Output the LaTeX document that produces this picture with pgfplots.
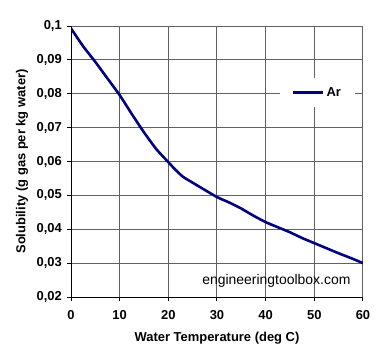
\documentclass[border=0pt]{standalone}
\usepackage{pgfplots}
\pgfplotsset{compat=1.18}
\usepackage{fontspec}
\setmainfont{Liberation Sans}
\definecolor{navy}{rgb}{0,0,0.5}
\definecolor{gridgray}{rgb}{0.38,0.38,0.38}
\begin{document}
\begin{tikzpicture}
\path[use as bounding box] (-71bp,-66bp) rectangle (317bp,297bp);
\begin{axis}[
  at={(0,0)}, anchor=south west,
  scale only axis, width=292bp, height=271bp,
  xmin=0, xmax=60, ymin=0.02, ymax=0.1,
  xtick={0,10,20,30,40,50,60},
  ytick={0.02,0.03,0.04,0.05,0.06,0.07,0.08,0.09,0.1},
  grid=major,
  major grid style={gridgray, line width=1bp},
  axis line style={gridgray, line width=1bp},
  tick align=outside, major tick length=4bp,
  tick style={black, line width=1bp},
  xtick pos=bottom, ytick pos=left,
  /pgf/number format/.cd, use comma, fixed, precision=2, assume math mode=true,
  /pgfplots/.cd,
  ticklabel style={font=\bfseries\fontsize{13}{13}\selectfont},
  yticklabel style={anchor=east, inner sep=0pt, xshift=-5bp},
  xticklabel style={anchor=north, inner sep=0pt, yshift=-9bp},
  xlabel={Water Temperature (deg C)},
  ylabel={Solubility (g gas per kg water)},
  label style={font=\bfseries\fontsize{13}{13}\selectfont},
  xlabel style={at={(axis description cs:0.5,-0.151)}, anchor=center},
  ylabel style={at={(axis description cs:-0.168,0.5)}, anchor=center},
  legend style={at={(0.973,0.808)}, anchor=north east, draw=none, fill=white,
    inner xsep=12bp, inner ysep=7bp, font=\bfseries\fontsize{13}{13}\selectfont},
  legend image code/.code={\draw[#1] (0bp,0bp) -- (30bp,0bp);},
]
\addplot[navy, line width=2.6pt, smooth, tension=0.3] coordinates {
(0,0.0993) (2.5,0.0940) (5,0.0894) (7.5,0.0845) (10,0.0796) (12.5,0.0740) (15,0.0686)
(17.5,0.0637) (20,0.0598) (21.5,0.0575) (23,0.0555) (24.7,0.0540) (27.5,0.0516) (30,0.0495)
(32.5,0.0479) (35,0.0461) (37.5,0.0440) (40,0.0421) (42.5,0.0406) (45,0.0391)
(47.5,0.0374) (50,0.0359) (52.5,0.0344) (55,0.0329) (57.5,0.0315) (60,0.0300)};
\addlegendentry{Ar}
\draw[black, line width=1bp] (rel axis cs:0,1) -- (rel axis cs:0,0) -- (rel axis cs:1,0);
\node[font=\fontsize{14}{14}\selectfont] at (axis cs:42.2,0.0249) {engineeringtoolbox.com};
\end{axis}
\end{tikzpicture}
\end{document}
